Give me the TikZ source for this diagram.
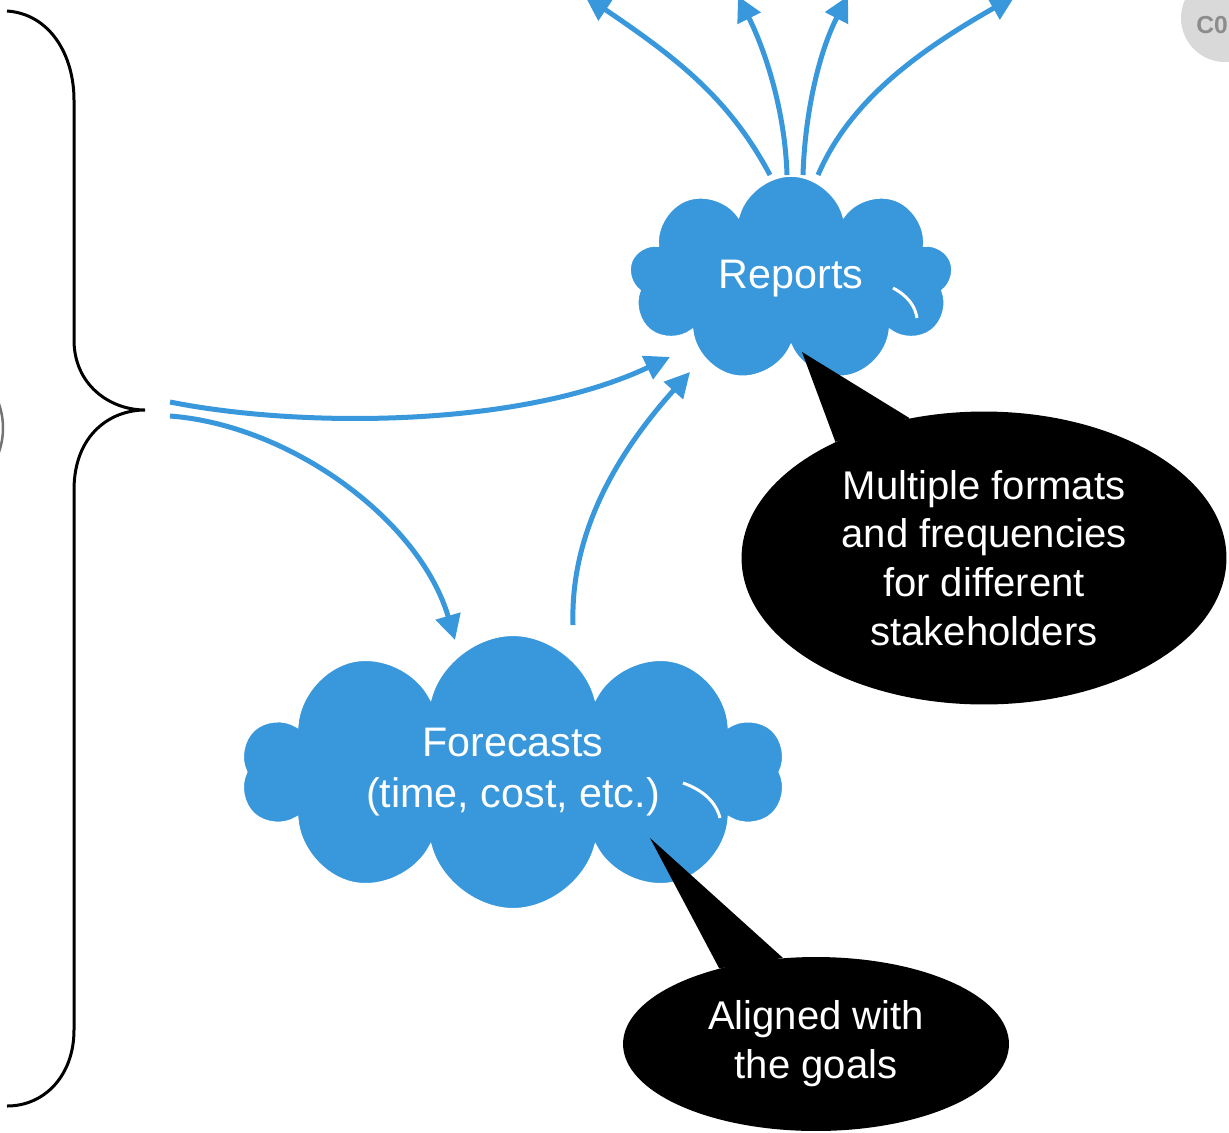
\documentclass[tikz,border=0pt]{standalone}
\usepackage{fontspec}
\setmainfont{Liberation Sans}
\usetikzlibrary{arrows.meta,calc,positioning,shapes.geometric,shapes.symbols}
\definecolor{cloudblue}{RGB}{56,152,219}
\begin{document}
\begin{tikzpicture}[x=0.02cm,y=-0.02cm,
cloudy/.style={cloud,cloud puffs=9,cloud ignores aspect,fill=cloudblue,draw=white,line width=0.06cm,text=white,align=center,font=\fontsize{23.5}{29.5}\selectfont},
remark/.style={ellipse,fill=black,text=white,align=center,inner sep=0pt,font=\fontsize{22.8}{27.8}\selectfont},
flow/.style={draw=cloudblue,line width=0.1cm,-{Triangle[length=0.5cm,width=0.5cm]}},
crease/.style={draw=white,line width=0.06cm}]
\useasboundingbox (0,0) rectangle (1229,1132);
\clip (0,0) rectangle (1229,1132);
\fill[black!15] (1225,18) circle (44);
\node[text=black!45,font=\bfseries\fontsize{14}{16}\selectfont,anchor=west,inner sep=0pt] (tag) at (1196,25) {C0};
\draw[black!55,line width=0.05cm] (-70,428) circle (73);
\coordinate (brace) at (145,410);
\draw[line width=0.06cm] (7,11) .. controls (50,14) and (74,55) .. (74,100) -- (74,340) .. controls (74,385) and (110,410) .. (brace) .. controls (110,410) and (74,435) .. (74,490) -- (74,1030) .. controls (74,1075) and (45,1106) .. (7,1106);
\node[cloudy,minimum width=6.5cm,minimum height=4.15cm] (reports) at (791,279) {Reports};
\node[cloudy,cloud puffs=10,minimum width=10.9cm,minimum height=5.5cm] (forecasts) at (513,772) {Forecasts\\(time, cost, etc.)};
\draw[crease] (893,288) .. controls (908,296) and (915,306) .. (917,318);
\draw[crease] (683,783) .. controls (703,790) and (716,802) .. (720,818);
\coordinate (top1) at (585,-4);
\coordinate (top2) at (738,-4);
\coordinate (top3) at (848,-4);
\coordinate (top4) at (1015,-4);
\draw[flow] ([shift={(25,-8)}]brace) .. controls (300,428) and (520,428) .. ([shift={(-121,78)}]reports.center);
\draw[flow] ([shift={(25,6)}]brace) .. controls (290,425) and (420,520) .. ([shift={(-58,-132)}]forecasts.center);
\draw[flow] ([shift={(60,-147)}]forecasts.center) .. controls (570,530) and (620,450) .. ([shift={(-101,93)}]reports.center);
\draw[flow] ([shift={(-21,-104)}]reports.center) .. controls (730,100) and (680,60) .. (top1);
\draw[flow] ([shift={(-4,-104)}]reports.center) .. controls (785,110) and (765,50) .. (top2);
\draw[flow] ([shift={(12,-104)}]reports.center) .. controls (805,110) and (820,50) .. (top3);
\draw[flow] ([shift={(27,-104)}]reports.center) .. controls (850,100) and (920,50) .. (top4);
\coordinate (rtip) at (802,352);
\coordinate (ftip) at (650,838);
\node[remark,minimum width=9.7cm,minimum height=5.86cm] (formats) at (984,558) {Multiple formats\\and frequencies\\for different\\stakeholders};
\node[remark,minimum width=7.72cm,minimum height=3.48cm] (goals) at (816,1044) {Aligned with\\the goals};
\fill (formats.118) -- (rtip) -- (formats.142) -- cycle;
\fill (goals.111) -- (ftip) -- (goals.142) -- cycle;
\end{tikzpicture}
\end{document}
